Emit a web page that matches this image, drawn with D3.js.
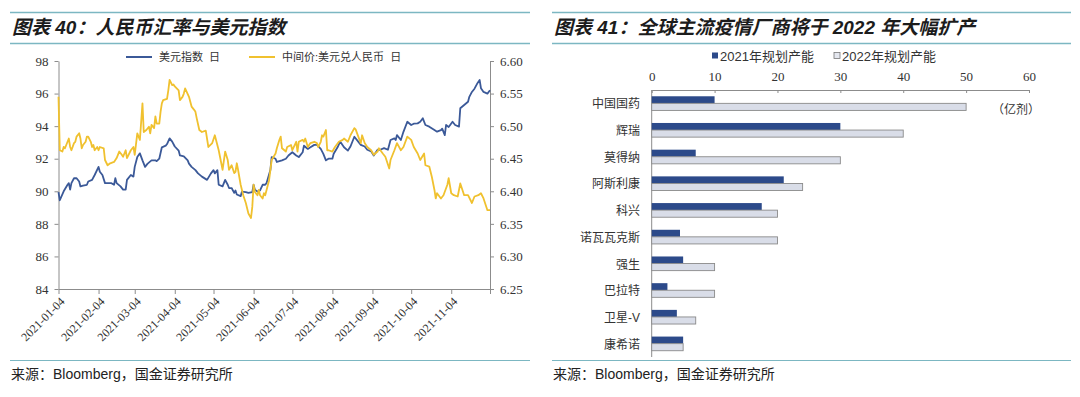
<!DOCTYPE html>
<html>
<head>
<meta charset="utf-8">
<script src="https://cdn.jsdelivr.net/npm/d3@7"></script>
<style>
  body { margin: 0; background: #fff; }
  .serif { font-family: "Liberation Serif", "Times New Roman", serif; }
  .cjk { font-family: "Liberation Sans", "Noto Sans CJK SC", sans-serif; }
</style>
</head>
<body>
<svg id="chart" width="1080" height="397"></svg>
<script>
// ---- left panel: USD index (left axis) and CNY central parity (right axis)
const usdDates = [
  "01-04","01-05","01-08","01-11","01-12","01-13","01-14","01-16","01-18","01-20",
  "01-21","01-23","01-26","01-27","01-30","02-01","02-04","02-05","02-07","02-09",
  "02-12","02-14","02-16","02-17","02-18","02-21","02-23","02-25","02-26","03-01",
  "03-03","03-04","03-06","03-08","03-10","03-12","03-14","03-17","03-20","03-21",
  "03-23","03-25","03-28","03-29","03-31","04-02","04-04","04-07","04-08","04-11",
  "04-14","04-15","04-17","04-20","04-22","04-25","04-29","05-02","05-04","05-05",
  "05-07","05-08","05-11","05-13","05-15","05-16","05-18","05-20","05-21","05-22",
  "05-25","05-26","05-29","05-31","06-03","06-04","06-05","06-07","06-09","06-11",
  "06-13","06-14","06-17","06-18","06-21","06-22","06-26","06-29","07-01","07-04",
  "07-07","07-09","07-12","07-13","07-16","07-18","07-21","07-23","07-26","07-28",
  "07-30","08-01","08-04","08-05","08-08","08-10","08-13","08-16","08-18","08-21",
  "08-24","08-26","08-29","08-31","09-03","09-05","09-08","09-10","09-13","09-16",
  "09-18","09-21","09-22","09-23","09-26","09-28","10-01","10-04","10-06","10-09",
  "10-11","10-13","10-15","10-18","10-22","10-24","10-27","10-28","10-30","10-31",
  "11-02","11-05","11-07","11-10","11-11","11-14","11-17","11-18","11-20","11-22",
  "11-24","11-26","11-27","11-29","12-02","12-04"
];
const usdValues = [
  89.95,89.45,90.0,90.4,90.5,90.1,90.5,90.8,90.8,90.6,
  90.3,90.35,90.4,90.6,90.7,91.0,91.5,91.2,91.0,90.5,
  90.5,90.5,90.4,90.8,90.5,90.3,90.1,90.1,90.7,91.0,
  90.9,91.5,92.1,92.33,91.9,91.5,91.7,91.9,91.9,91.85,
  92.0,92.7,92.8,92.9,93.25,93.05,92.75,92.5,92.2,92.15,
  91.9,91.7,91.5,91.3,91.1,90.9,90.7,91.1,91.3,91.1,
  91.3,90.4,90.3,90.7,90.4,90.2,90.2,89.9,90.05,89.8,
  89.7,89.98,89.95,89.9,89.95,90.4,90.1,89.98,90.05,90.4,
  90.4,90.5,91.3,92.1,92.0,91.8,91.9,92.0,92.2,92.4,
  92.2,92.1,92.4,92.8,92.6,92.7,92.85,92.85,92.6,92.3,
  91.9,92.0,92.0,92.3,92.7,93.05,92.7,92.5,92.75,93.35,
  93.05,92.85,92.75,92.55,92.45,92.2,92.55,92.55,92.65,92.55,
  93.15,93.25,93.15,93.45,93.15,93.65,94.27,94.07,94.15,94.17,
  94.27,94.48,94.07,93.97,93.76,93.66,93.76,93.85,93.45,94.07,
  93.95,94.27,94.07,93.97,95.1,95.3,95.5,95.8,96.1,96.3,
  96.6,96.83,96.33,96.1,96.0,96.2
];

const cnyDates = [
  "01-04","01-05","01-07","01-08","01-09","01-12","01-13","01-14","01-16","01-17",
  "01-18","01-20","01-21","01-22","01-23","01-25","01-26","01-27","01-29","01-30",
  "01-31","02-01","02-03","02-04","02-05","02-08","02-09","02-11","02-13","02-16",
  "02-18","02-20","02-22","02-23","02-25","02-26","03-01","03-03","03-04","03-06",
  "03-07","03-08","03-10","03-11","03-13","03-15","03-16","03-17","03-19","03-20",
  "03-21","03-23","03-24","03-25","03-26","03-29","03-30","03-31","04-02","04-03",
  "04-04","04-07","04-08","04-10","04-11","04-12","04-15","04-17","04-19","04-20",
  "04-21","04-23","04-25","04-28","04-30","05-03","05-05","05-08","05-11","05-13",
  "05-15","05-16","05-18","05-20","05-21","05-22","05-23","05-25","05-26","05-27",
  "05-29","05-31","06-02","06-03","06-04","06-05","06-07","06-08","06-09","06-11",
  "06-12","06-13","06-16","06-18","06-21","06-22","06-24","06-25","06-26","06-29",
  "06-30","07-03","07-04","07-07","07-08","07-09","07-12","07-13","07-14","07-16",
  "07-18","07-21","07-23","07-24","07-26","07-27","07-28","07-30","07-31","08-01",
  "08-04","08-06","08-09","08-12","08-13","08-16","08-18","08-21","08-22","08-25",
  "08-26","08-27","08-29","08-31","09-03","09-05","09-08","09-09","09-12","09-14",
  "09-17","09-18","09-21","09-23","09-26","09-28","10-01","10-04","10-06","10-09",
  "10-11","10-14","10-15","10-18","10-20","10-22","10-23","10-24","10-27","10-29",
  "11-01","11-02","11-04","11-06","11-09","11-11","11-14","11-17","11-20","11-22",
  "11-25","11-27","11-29","12-02","12-04"
];
const cnyValues = [
  6.545,6.463,6.461,6.468,6.466,6.481,6.468,6.463,6.474,6.476,
  6.484,6.489,6.481,6.466,6.471,6.476,6.484,6.484,6.476,6.468,
  6.471,6.463,6.468,6.463,6.468,6.466,6.448,6.440,6.443,6.445,
  6.451,6.461,6.456,6.453,6.463,6.451,6.463,6.468,6.456,6.489,
  6.484,6.479,6.535,6.491,6.494,6.499,6.489,6.502,6.497,6.515,
  6.504,6.504,6.522,6.535,6.540,6.542,6.555,6.571,6.563,6.564,
  6.561,6.555,6.540,6.545,6.550,6.558,6.545,6.530,6.525,6.522,
  6.512,6.494,6.491,6.493,6.468,6.474,6.486,6.463,6.433,6.461,
  6.448,6.433,6.440,6.428,6.430,6.443,6.433,6.410,6.402,6.394,
  6.382,6.366,6.359,6.376,6.410,6.399,6.394,6.402,6.394,6.389,
  6.397,6.394,6.417,6.448,6.458,6.466,6.479,6.484,6.466,6.461,
  6.468,6.471,6.463,6.476,6.461,6.476,6.479,6.476,6.481,6.468,
  6.474,6.476,6.474,6.468,6.476,6.486,6.484,6.494,6.463,6.463,
  6.461,6.468,6.476,6.479,6.481,6.476,6.486,6.497,6.495,6.479,
  6.474,6.486,6.474,6.468,6.463,6.456,6.461,6.466,6.458,6.453,
  6.435,6.448,6.463,6.474,6.463,6.468,6.484,6.479,6.468,6.458,
  6.448,6.458,6.440,6.438,6.422,6.402,6.389,6.397,6.389,6.394,
  6.410,6.420,6.397,6.394,6.392,6.412,6.394,6.394,6.382,6.392,
  6.394,6.397,6.389,6.371,6.371
];

const leftTicks = [84, 86, 88, 90, 92, 94, 96, 98];
const rightTicks = [6.25, 6.30, 6.35, 6.40, 6.45, 6.50, 6.55, 6.60];
const monthTicks = ["01-04","02-04","03-04","04-04","05-04","06-04","07-04","08-04","09-04","10-04","11-04","12-04"];

// ---- right panel: vaccine capacity (亿剂)
const makers = ["中国国药","辉瑞","莫得纳","阿斯利康","科兴","诺瓦瓦克斯","强生","巴拉特","卫星-V","康希诺"];
const cap2021 = [10, 30, 7, 21, 17.5, 4.5, 5, 2.5, 4, 5];
const cap2022 = [50, 40, 30, 24, 20, 20, 10, 10, 7, 5];
const capTicks = [0, 10, 20, 30, 40, 50, 60];

const BLUE = "#3b5998";
const YELLOW = "#f0c12f";
const RULE = "#7cb7c2";

const parse = d3.timeParse("%Y-%m-%d");
const day = s => parse("2021-" + s);

const svg = d3.select("#chart");

function header(x0, x1, title) {
  svg.append("line").attr("x1", x0).attr("x2", x1).attr("y1", 12.5).attr("y2", 12.5)
    .attr("stroke", RULE).attr("stroke-width", 1.6);
  svg.append("line").attr("x1", x0).attr("x2", x1).attr("y1", 43.5).attr("y2", 43.5)
    .attr("stroke", RULE).attr("stroke-width", 1.4);
  svg.append("text").attr("class", "cjk").attr("x", x0 + 2).attr("y", 34)
    .attr("font-size", 19).attr("font-weight", "bold").attr("font-style", "italic")
    .attr("fill", "#1c1c1c").text(title);
}

function footer(x0, x1) {
  svg.append("line").attr("x1", x0).attr("x2", x1).attr("y1", 360.5).attr("y2", 360.5)
    .attr("stroke", RULE).attr("stroke-width", 1.2);
  svg.append("text").attr("class", "cjk").attr("x", x0 + 1).attr("y", 379)
    .attr("font-size", 14).attr("fill", "#222").text("来源：Bloomberg，国金证券研究所");
}

header(10, 530, "图表 40：人民币汇率与美元指数");
footer(10, 530);
header(552, 1071, "图表 41：全球主流疫情厂商将于 2022 年大幅扩产");
footer(552, 1071);

// ---------------- left chart
const x = d3.scaleTime().domain([day("01-04"), day("12-04")]).range([58.5, 490]);
const yL = d3.scaleLinear().domain([84, 98]).range([289, 61]);
const yR = d3.scaleLinear().domain([6.25, 6.60]).range([289, 61]);

function styleAxis(g) {
  g.selectAll("path, line").attr("stroke", "#8c8c8c");
  g.selectAll("text").attr("class", "serif").attr("font-size", 13).attr("fill", "#333");
}

svg.append("g").attr("transform", "translate(58.5,0)")
  .call(d3.axisLeft(yL).tickValues(leftTicks).tickSize(4).tickSizeOuter(0).tickPadding(6))
  .call(styleAxis);

svg.append("g").attr("transform", "translate(490,0)")
  .call(d3.axisRight(yR).tickValues(rightTicks).tickFormat(d3.format(".2f"))
    .tickSize(4).tickSizeOuter(0).tickPadding(6))
  .call(styleAxis);

const fmt = d3.timeFormat("%Y-%m-%d");
const xAxis = svg.append("g").attr("transform", "translate(0,289)")
  .call(d3.axisBottom(x).tickValues(monthTicks.map(day))
    .tickFormat(d => d.getMonth() === 11 ? "" : fmt(d))
    .tickSize(5).tickSizeOuter(0).tickPadding(3))
  .call(styleAxis);
xAxis.selectAll("text").attr("font-size", 12)
  .attr("text-anchor", "end")
  .attr("transform", "rotate(-45)")
  .attr("dx", "-0.4em").attr("dy", "0.5em");

const usd = usdDates.map((d, i) => ({ date: day(d), v: usdValues[i] }));
const cny = cnyDates.map((d, i) => ({ date: day(d), v: cnyValues[i] }));

svg.append("path").datum(usd)
  .attr("fill", "none").attr("stroke", BLUE).attr("stroke-width", 1.8).attr("stroke-linejoin", "round")
  .attr("d", d3.line().x(d => x(d.date)).y(d => yL(d.v)));

svg.append("path").datum(cny)
  .attr("fill", "none").attr("stroke", YELLOW).attr("stroke-width", 1.8).attr("stroke-linejoin", "round")
  .attr("d", d3.line().x(d => x(d.date)).y(d => yR(d.v)));

// legend
const lineLegend = [
  { label: "美元指数  日", color: BLUE, x: 126 },
  { label: "中间价:美元兑人民币  日", color: YELLOW, x: 249 }
];
lineLegend.forEach(l => {
  svg.append("line").attr("x1", l.x).attr("x2", l.x + 26).attr("y1", 57).attr("y2", 57)
    .attr("stroke", l.color).attr("stroke-width", 2);
  svg.append("text").attr("class", "cjk").attr("x", l.x + 33).attr("y", 57)
    .attr("dominant-baseline", "central").attr("font-size", 11).attr("fill", "#333")
    .attr("xml:space", "preserve").text(l.label);
});

// ---------------- right chart
const xB = d3.scaleLinear().domain([0, 60]).range([651.7, 1029]);
const yB = d3.scaleBand().domain(makers).range([90, 357]).paddingInner(0.47).paddingOuter(0.235);
const half = yB.bandwidth() / 2;

const topAxis = svg.append("g").attr("transform", "translate(0,90)")
  .call(d3.axisTop(xB).tickValues(capTicks).tickSize(-3).tickSizeOuter(0).tickPadding(9))
  .call(styleAxis);
topAxis.selectAll("text").attr("font-size", 13);

svg.append("line").attr("x1", xB(0)).attr("x2", xB(0)).attr("y1", 90).attr("y2", 357)
  .attr("stroke", "#8c8c8c");

svg.append("g").selectAll("text").data(makers).join("text")
  .attr("class", "cjk").attr("x", 640).attr("y", d => yB(d) + half + 1)
  .attr("text-anchor", "end").attr("dominant-baseline", "central")
  .attr("font-size", 12).attr("fill", "#333").text(d => d);

svg.append("g").selectAll("rect").data(makers).join("rect")
  .attr("x", xB(0)).attr("y", d => yB(d))
  .attr("width", (d, i) => xB(cap2021[i]) - xB(0)).attr("height", half)
  .attr("fill", "#2c4a8a");

svg.append("g").selectAll("rect").data(makers).join("rect")
  .attr("x", xB(0)).attr("y", d => yB(d) + half)
  .attr("width", (d, i) => xB(cap2022[i]) - xB(0)).attr("height", half)
  .attr("fill", "#d9dde8").attr("stroke", "#8a8a8a").attr("stroke-width", 0.9);

const barLegend = [
  { label: "2021年规划产能", fill: "#2c4a8a", stroke: "none", x: 712 },
  { label: "2022年规划产能", fill: "#e4e7ef", stroke: "#777", x: 834 }
];
barLegend.forEach(l => {
  svg.append("rect").attr("x", l.x).attr("y", 52.5).attr("width", 6).attr("height", 6)
    .attr("fill", l.fill).attr("stroke", l.stroke).attr("stroke-width", 0.8);
  svg.append("text").attr("class", "cjk").attr("x", l.x + 8).attr("y", 56)
    .attr("dominant-baseline", "central").attr("font-size", 13).attr("fill", "#333").text(l.label);
});

svg.append("text").attr("class", "cjk").attr("x", 992).attr("y", 110)
  .attr("dominant-baseline", "central").attr("font-size", 12).attr("fill", "#333").text("（亿剂）");
</script>
</body>
</html>
